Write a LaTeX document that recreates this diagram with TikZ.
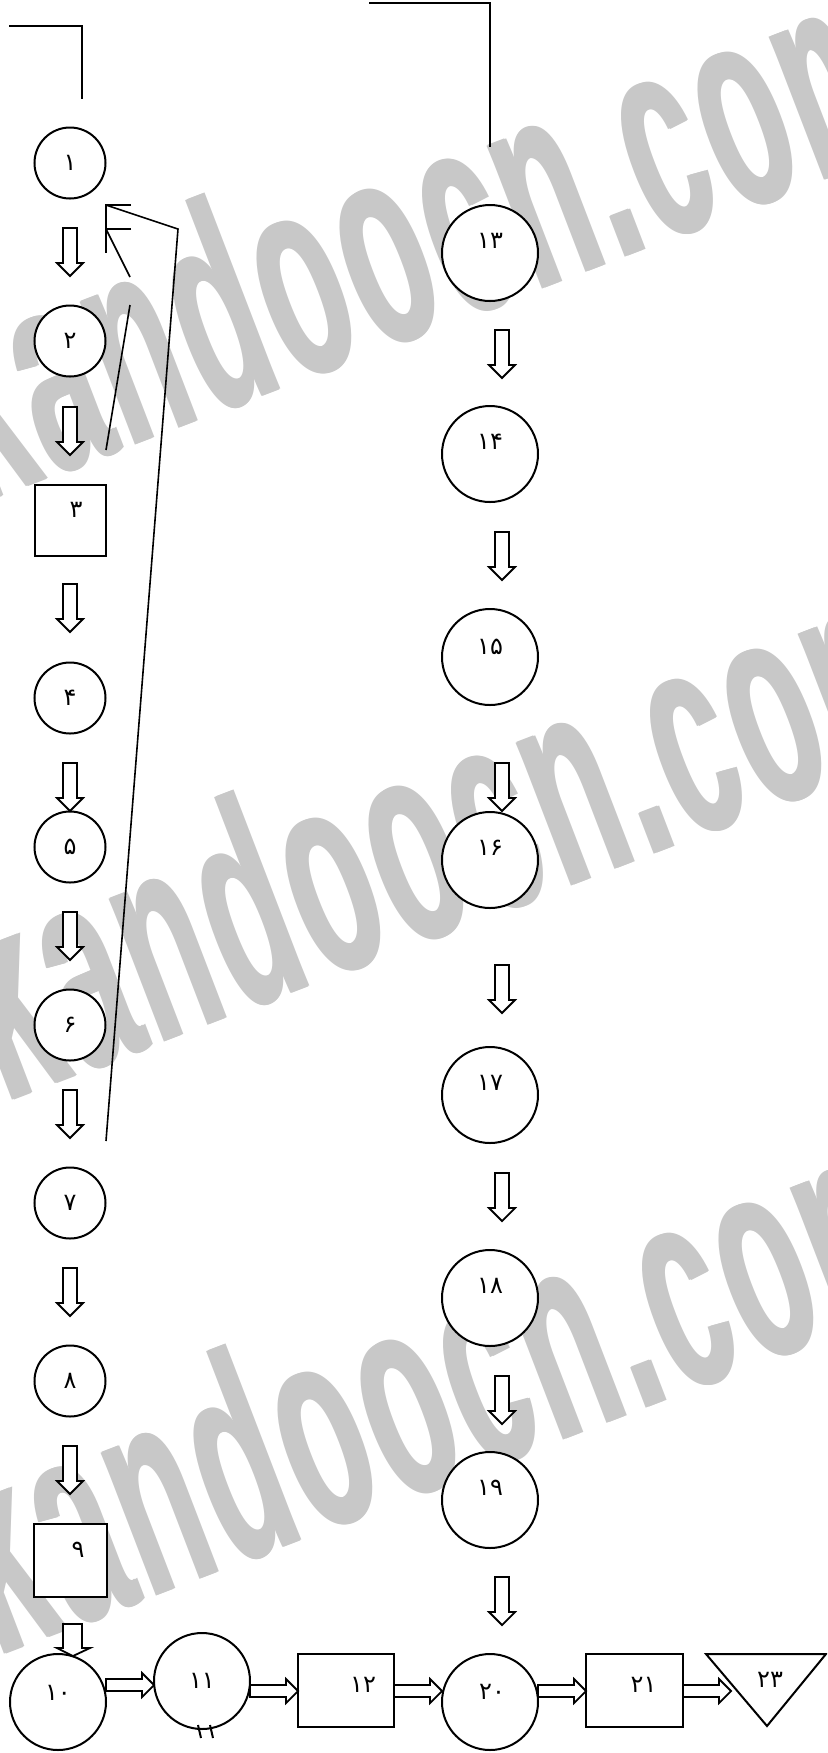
\documentclass[tikz,border=0pt]{standalone}
\usepackage{fontspec}
\newfontfamily\fa{DejaVu Sans}
\newfontfamily\wm[LetterSpace=4]{Liberation Sans}
\definecolor{wmgray}{RGB}{200,200,200}
\begin{document}
\begin{tikzpicture}[x=0.5pt,y=-0.5pt,
 shp/.style={draw, line width=1pt, fill=white, inner sep=0pt},
 cS/.style={shp, circle, minimum size=35.5pt},
 cL/.style={shp, circle, minimum size=48pt},
 bx/.style={shp, rectangle, minimum width=#1, minimum height=36.5pt},
 lab/.style={font=\fa\fontsize{12}{12}\selectfont, inner sep=0pt},
 ln/.style={line width=0.8pt},
 wmk/.style={font=\wm\bfseries\fontsize{145}{145}\selectfont, text=wmgray, rotate=21, xscale=0.47, anchor=base, inner sep=0pt},
 dn/.pic={\draw[line width=0.9pt, fill=white] (-7,0) -- (7,0) -- (7,35) -- (13,35) -- (0,48) -- (-13,35) -- (-7,35) -- cycle;},
 rt/.pic={\draw[line width=0.9pt, fill=white] (0,-6) -- (36,-6) -- (36,-12) -- (48,0) -- (36,12) -- (36,6) -- (0,6) -- cycle;}
]
\path[use as bounding box] (0,0) rectangle (827,1753);
\clip (0,0) rectangle (827,1753);
% watermark (drawn three times, slightly shifted, to thicken the strokes)
\foreach \dx in {-1.6pt,0pt,1.6pt}{
  \node[wmk, xshift=\dx] at (453,323) {kandoocn.com};
  \node[wmk, xshift=\dx] at (482,920) {kandoocn.com};
  \node[wmk, xshift=\dx] at (474,1474) {kandoocn.com};
}

% brackets and lines
\coordinate (a1) at (9,26); \coordinate (a2) at (82,26); \coordinate (a3) at (82,99);
\draw[ln] (a1) -- (a2) -- (a3);
\coordinate (b1) at (369,3); \coordinate (b2) at (490,3); \coordinate (b3) at (490,147);
\draw[ln] (b1) -- (b2) -- (b3);
\coordinate (p1) at (106,205); \coordinate (p2) at (131,205); \coordinate (p3) at (106,253);
\coordinate (p4) at (106,229); \coordinate (p5) at (131,229);
\coordinate (p6) at (178,229); \coordinate (p7) at (106,1141);
\coordinate (p8) at (130,277); \coordinate (p9) at (130,305); \coordinate (p10) at (106,450);
\draw[ln] (p2) -- (p1) -- (p3);
\draw[ln] (p5) -- (p4);
\draw[ln] (p1) -- (p6) -- (p7);
\draw[ln] (p4) -- (p8);
\draw[ln] (p9) -- (p10);

% left column
\node[cS, label={[lab]center:۱}] (n1) at (70,163) {};
\node[cS, label={[lab]center:۲}] (n2) at (70,341) {};
\node[bx=35.5pt, minimum height=35.5pt, label={[lab,xshift=3pt,yshift=5pt]center:۳}] (n3) at (70,520) {};
\node[cS, label={[lab]center:۴}] (n4) at (70,698) {};
\node[cS, label={[lab]center:۵}] (n5) at (70,847) {};
\node[cS, label={[lab]center:۶}] (n6) at (70,1025) {};
\node[cS, label={[lab]center:۷}] (n7) at (70,1203) {};
\node[cS, label={[lab]center:۸}] (n8) at (70,1381) {};
\node[bx=36.5pt, label={[lab,xshift=4pt,yshift=5pt]center:۹}] (n9) at (70,1560) {};
\foreach \t in {228,407,584,763,912,1090,1268,1446} \pic at (70,\t) {dn};

% right column
\node[cL, label={[lab,yshift=6pt]center:۱۳}] (n13) at (490,253) {};
\node[cL, label={[lab,yshift=6pt]center:۱۴}] (n14) at (490,454) {};
\node[cL, label={[lab,yshift=5pt]center:۱۵}] (n15) at (490,657) {};
\node[cL, label={[lab,yshift=6pt]center:۱۶}] (n16) at (490,860) {};
\node[cL, label={[lab,yshift=6pt]center:۱۷}] (n17) at (490,1095) {};
\node[cL, label={[lab,yshift=6pt]center:۱۸}] (n18) at (490,1298) {};
\node[cL, label={[lab,yshift=6pt]center:۱۹}] (n19) at (490,1500) {};
\foreach \t in {330,532,763,965,1173,1376,1577} \pic at (502,\t) {dn};

% bottom row
\node[cL, label={[lab,yshift=4.5pt]center:۱۰}] (n10) at (58,1702) {};
\node[cL, label={[lab]center:۱۱}] (n11) at (202,1681) {};
\node[bx=48pt, label={[lab,xshift=8.5pt,yshift=3pt]center:۱۲}] (n12) at (346,1690.5) {};
\node[cL, label={[lab,xshift=1pt,yshift=5pt]center:۲۰}] (n20) at (490,1702) {};
\node[bx=48.5pt, label={[lab,xshift=4.5pt,yshift=3pt]center:۲۱}] (n21) at (634.5,1690.5) {};
\coordinate (t1) at (706,1654); \coordinate (t2) at (826,1654); \coordinate (t3) at (767,1726);
\draw[shp] (t1) -- (t2) -- (t3) -- cycle;
\node[lab] (n23) at (770,1680) {۲۳};

% arrow into 10
\draw[line width=0.9pt, fill=white] (63,1624) -- (82,1624) -- (82,1648) -- (90,1648) -- (73,1656) -- (57,1648) -- (63,1648) -- cycle;
\pic at (106,1685) {rt};
\pic at (250,1691) {rt};
\pic at (394,1691) {rt};
\pic at (538,1691) {rt};
\pic at (683,1691) {rt};

% marks under 11
\coordinate (m1) at (198,1725); \coordinate (m2) at (201,1738);
\coordinate (m3) at (210,1725); \coordinate (m4) at (213,1738);
\draw[line width=1pt] (m1) -- (m2);
\draw[line width=1pt] (m3) -- (m4);
\end{tikzpicture}
\end{document}
